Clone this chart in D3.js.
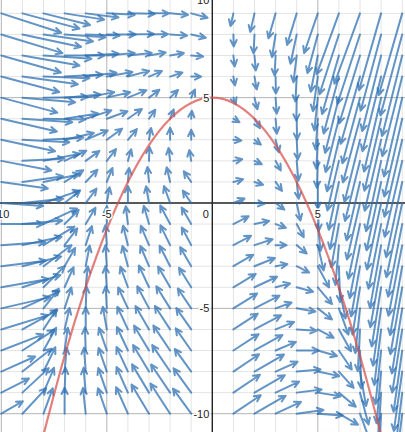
<!DOCTYPE html>
<html><head><meta charset="utf-8">
<script src="https://cdn.jsdelivr.net/npm/d3@7"></script>
<style>html,body{margin:0;padding:0;background:#fff;overflow:hidden}</style>
</head><body>
<svg id="chart" width="405" height="432"></svg>
<script>
// ---- data ----
const columnsX = [-10,-9,-8,-7,-6,-5,-4,-3,-2,-1,1,2,3,4,5,6,7,8,9];
const rowsY = [9,8,7,6,5,4,3,2,1,0,-1,-2,-3,-4,-5,-6,-7,-8,-9,-10];
// arrow direction in degrees (0 = right, 90 = up), one row per rowsY entry
const angleDeg = [
 [-18,-15,-14,-9,-7,-3,-1,0,-5,-15, -103,-103,-106,-107,-109,-110,-110,-106,-106],
 [-17,-12,-8,-4,-2,0,1,1,-4,-13, -88,-93,-99,-102,-105,-108,-108,-105,-105],
 [-16,-10,-4,0,3,5,6,10,10,-5, -83,-85,-93,-97,-101,-106,-107,-104,-104],
 [-15,-8,-2,3,7,10,15,23,18,0, -80,-80,-89,-93,-98,-105,-106,-104,-104],
 [-15,-5,1,5,11,13,22,37,44,65, -70,-76,-86,-91,-96,-104,-105,-103,-103],
 [-13,-4,-1,9,18,20,35,55,69,85, -30,-60,-85,-89,-94,-104,-105,-103,-103],
 [-12,-3,3,13,23,36,50,80,90,90, -5,-37,-75,-87,-93,-103,-104,-103,-103],
 [-11,3,11,25,36,52,74,88,97,100, 10,-25,-62,-85,-92,-103,-104,-102,-103],
 [-8,8,12,32,46,68,85,96,103,125, 15,-18,-55,-83,-90,-102,-103,-102,-102],
 [-4,6,19,39,53,80,90,100,110,124, 22,-5,-37,-78,-88,-101,-103,-102,-102],
 [0,5,25,45,59,90,97,106,118,120, 27,12,-20,-62,-84,-100,-102,-101,-101],
 [4,12,31,53,72,94,104,113,116,118, 28,18,0,-40,-77,-95,-101,-100,-101],
 [7,14,37,60,79,94,105,113,117,120, 30,22,10,-27,-62,-88,-100,-100,-100],
 [10,18,45,66,84,94,110,115,120,122, 31,25,15,-15,-50,-78,-99,-99,-100],
 [13,25,52,72,88,93,115,118,122,124, 32,27,20,-10,-38,-70,-96,-98,-99],
 [17,29,57,77,90,100,115,120,123,125, 33,28,22,-4,-28,-61,-93,-97,-99],
 [21,33,61,82,92,109,115,121,124,125, 33,29,23,0,-16,-56,-88,-96,-98],
 [24,38,64,85,94,109,115,121,124,126, 34,30,24,5,-12,-48,-80,-95,-98],
 [27,43,67,88,95,109,114,121,124,126, 34,30,25,7,-9,-40,-75,-94,-97],
 [30,47,70,90,96,109,114,121,123,126, 34,30,25,8,-4,-30,-70,-93,-97]
];
// arrow magnitude (relative), one row per rowsY entry
const magnitude = [
 [63,59,48,40,33,28,27,20,18,17, 13,19,26,33,42,65,75,80,85],
 [64,60,50,41,34,29,26,19,17,15, 12,19,23,30,40,63,73,79,84],
 [62,58,48,40,33,28,24,17,14,12, 11,15,20,27,37,61,71,78,83],
 [60,56,46,38,31,26,22,14,13,10, 9,13,17,25,35,59,70,77,82],
 [58,53,44,36,29,24,20,13,11,9, 7,12,16,23,33,57,68,76,81],
 [57,50,42,34,27,22,17,11,10,8, 7,11,15,21,31,55,66,74,80],
 [55,47,40,30,24,19,14,12,12,10, 8,8,13,20,29,53,64,73,79],
 [51,42,37,24,17,15,12,14,13,11, 9,8,11,20,27,51,62,72,78],
 [47,41,37,22,17,15,14,15,15,13, 10,9,11,17,27,49,60,70,77],
 [42,41,38,20,18,16,17,17,18,15, 12,10,11,18,28,47,58,68,76],
 [42,40,37,20,19,18,18,19,21,19, 17,15,11,15,27,44,56,66,74],
 [44,40,36,21,20,20,20,21,22,20, 20,19,11,13,26,40,54,64,72],
 [45,40,35,21,21,21,21,22,23,22, 23,22,12,14,24,36,51,62,70],
 [48,40,30,22,21,21,22,24,24,23, 26,25,15,17,22,32,48,60,68],
 [50,41,25,22,22,22,23,25,26,24, 28,28,17,19,18,28,45,58,66],
 [49,40,24,22,22,23,25,27,28,26, 29,30,20,20,18,25,42,56,64],
 [45,38,26,23,23,24,26,29,30,27, 30,32,22,22,20,23,38,54,62],
 [37,37,27,24,24,25,27,31,32,28, 31,34,24,24,22,22,35,52,60],
 [31,36,27,25,25,26,28,33,34,30, 32,35,26,25,23,22,33,50,58],
 [25,35,27,26,26,27,29,34,36,31, 33,36,28,27,25,22,32,48,56]
];
// red curve points
const curveX = [-8,-7,-6,-5,-4,-3,-2,-1,0,1,2,3,4,5,6,7,8];
const curveY = [-11,-7.25,-4,-1.25,1,2.75,4,4.75,5,4.75,4,2.75,1,-1.25,-4,-7.25,-11];
// tick labels
const xTickLabels = [{v:-10,t:"-10"},{v:-5,t:"-5"},{v:5,t:"5"}];
const yTickLabels = [{v:10,t:"10"},{v:5,t:"5"},{v:-5,t:"-5"},{v:-10,t:"-10"}];

// ---- drawing ----
const W = 405, H = 432;
const svg = d3.select("#chart");
const x = d3.scaleLinear().domain([-10, 9]).range([1.3, 402.2]);
const y = d3.scaleLinear().domain([-10, 10]).range([413.7, -7.7]);
const magToUnits = 1 / 21.1;

const gridX = d3.range(-10, 10);
const gridY = d3.range(-11, 11);
const gGrid = svg.append("g");
gGrid.selectAll("line.mx").data(gridX.filter(d => d % 5 !== 0)).join("line")
  .attr("x1", d => x(d)).attr("x2", d => x(d)).attr("y1", 0).attr("y2", H)
  .attr("stroke", "#e4e4e4").attr("stroke-width", 1);
gGrid.selectAll("line.my").data(gridY.filter(d => d % 5 !== 0)).join("line")
  .attr("y1", d => y(d)).attr("y2", d => y(d)).attr("x1", 0).attr("x2", W)
  .attr("stroke", "#e4e4e4").attr("stroke-width", 1);
gGrid.selectAll("line.Mx").data(gridX.filter(d => d % 5 === 0 && d !== 0)).join("line")
  .attr("x1", d => x(d)).attr("x2", d => x(d)).attr("y1", 0).attr("y2", H)
  .attr("stroke", "#b4b4b4").attr("stroke-width", 1);
gGrid.selectAll("line.My").data(gridY.filter(d => d % 5 === 0 && d !== 0)).join("line")
  .attr("y1", d => y(d)).attr("y2", d => y(d)).attr("x1", 0).attr("x2", W)
  .attr("stroke", "#b4b4b4").attr("stroke-width", 1);
// axes
svg.append("line").attr("x1", 0).attr("x2", W).attr("y1", y(0)).attr("y2", y(0))
  .attr("stroke", "#222").attr("stroke-width", 1.4);
svg.append("line").attr("x1", x(0)).attr("x2", x(0)).attr("y1", 0).attr("y2", H)
  .attr("stroke", "#222").attr("stroke-width", 1.4);

// arrows
const arrows = [];
rowsY.forEach((yv, i) => {
  columnsX.forEach((xv, j) => {
    const a = angleDeg[i][j] * Math.PI / 180;
    const m = magnitude[i][j] * magToUnits;
    arrows.push({x0: xv, y0: yv, x1: xv + m * Math.cos(a), y1: yv + m * Math.sin(a)});
  });
});
function arrowPath(d) {
  const px0 = x(d.x0), py0 = y(d.y0), px1 = x(d.x1), py1 = y(d.y1);
  const ang = Math.atan2(py1 - py0, px1 - px0);
  const hl = 7, ha = 0.45;
  const lx = px1 - hl * Math.cos(ang - ha), ly = py1 - hl * Math.sin(ang - ha);
  const rx = px1 - hl * Math.cos(ang + ha), ry = py1 - hl * Math.sin(ang + ha);
  return `M${px0},${py0}L${px1},${py1}M${lx},${ly}L${px1},${py1}L${rx},${ry}`;
}
svg.append("g").selectAll("path").data(arrows).join("path")
  .attr("d", arrowPath)
  .attr("fill", "none").attr("stroke", "#2d70b3").attr("stroke-opacity", 0.75)
  .attr("stroke-width", 2).attr("stroke-linecap", "round").attr("stroke-linejoin", "round");

// red curve
const line = d3.line().x(d => x(d[0])).y(d => y(d[1])).curve(d3.curveNatural);
svg.append("path").datum(curveX.map((v, i) => [v, curveY[i]]))
  .attr("d", line).attr("fill", "none").attr("stroke", "#d64f4b")
  .attr("stroke-opacity", 0.72).attr("stroke-width", 2.2);

// labels
const font = "'Liberation Sans', Arial, sans-serif";
function halo(sel) {
  sel.attr("font-family", font).attr("font-size", 11).attr("fill", "#222")
    .attr("stroke", "#fff").attr("stroke-width", 3).attr("paint-order", "stroke")
    .attr("stroke-linejoin", "round");
}
svg.append("g").selectAll("text").data(xTickLabels).join("text")
  .attr("x", d => x(d.v)).attr("y", y(0) + 15).attr("text-anchor", "middle")
  .text(d => d.t).call(halo);
svg.append("text").attr("x", x(0) - 3.5).attr("y", y(0) + 15).attr("text-anchor", "end")
  .text("0").call(halo);
svg.append("g").selectAll("text").data(yTickLabels).join("text")
  .attr("x", x(0) - 3).attr("y", d => d.v === 10 ? 4 : y(d.v) + 4)
  .attr("text-anchor", "end").text(d => d.t).call(halo);
</script>
</body></html>
